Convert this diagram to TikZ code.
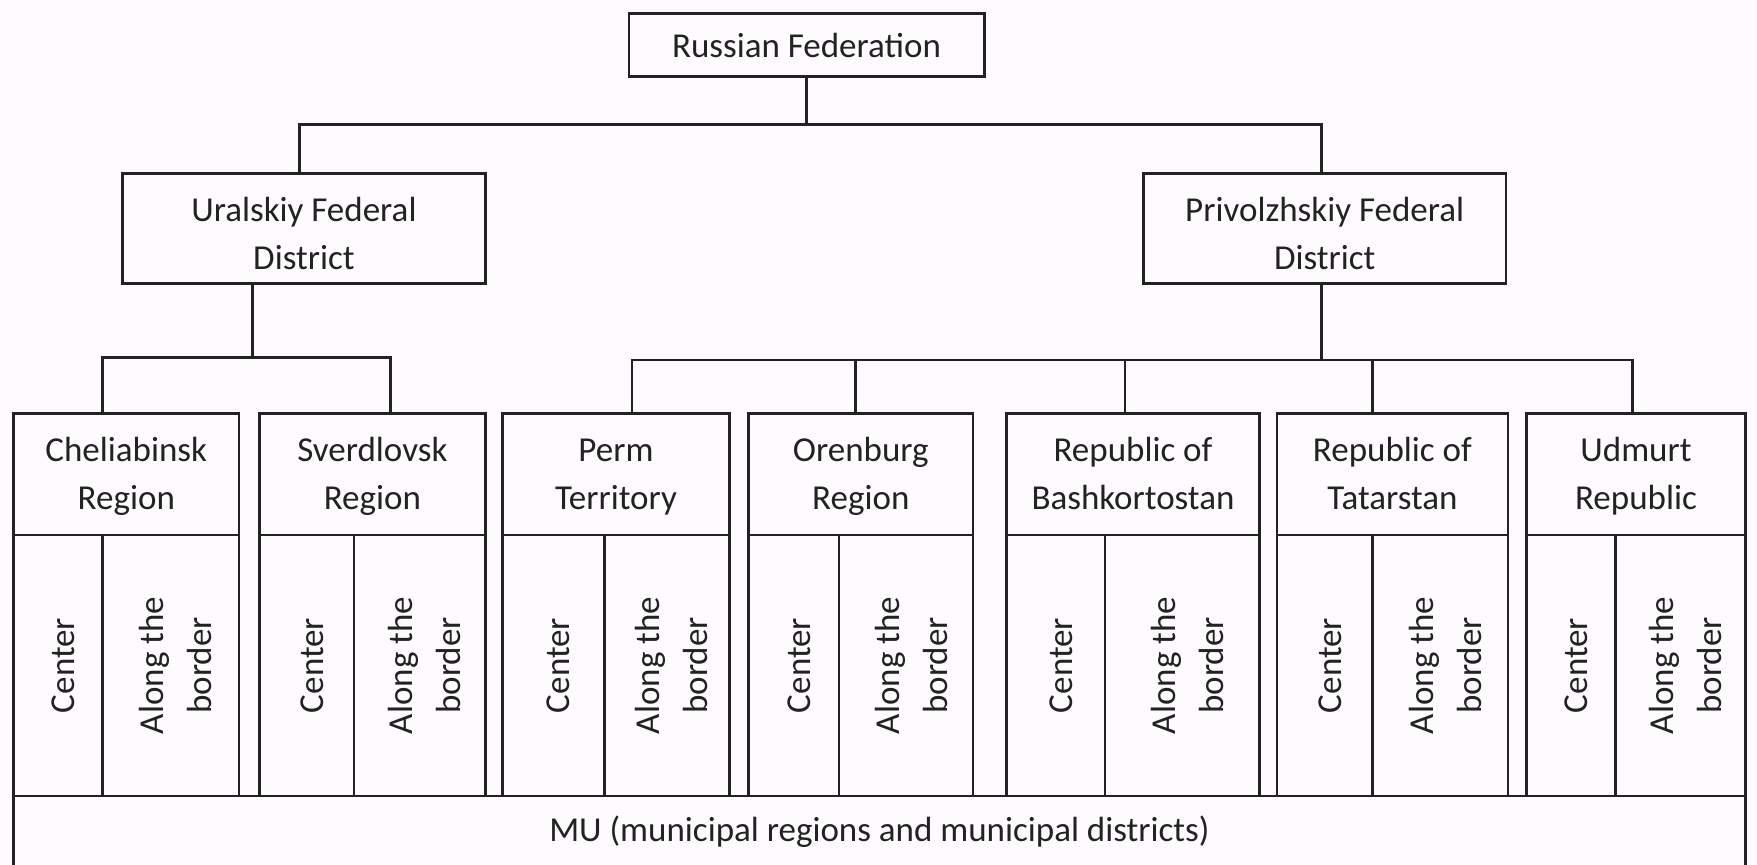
\documentclass[tikz,border=0pt]{standalone}
\usepackage{fontspec}
\setmainfont{Carlito}
\usetikzlibrary{calc}
\definecolor{bg}{RGB}{253,251,253}
\definecolor{ink}{RGB}{34,34,34}
\newcommand\myup[1]{\rule{0pt}{#1}}
\newcommand\mydn{\rule[-8pt]{0pt}{0pt}}
\begin{document}
\begin{tikzpicture}[x=1pt,y=-1pt,
  box/.style={draw=ink, line width=2.5pt, inner sep=0pt, outer sep=0pt, align=center, text=ink,
              font=\fontsize{35}{48}\selectfont},
  cell/.style={box, rotate=90, minimum width=261pt},
  hdr/.style={box, minimum height=121.7pt},
  conn/.style={draw=ink, line width=2.5pt}]
\useasboundingbox (0,0) rectangle (1757,865);
\clip (0,0) rectangle (1757,865);
\fill[bg] (0,0) rectangle (1757,865);

% top level
\node[box, minimum width=355.5pt, minimum height=63.4pt] (rf) at (806.5,45) {Russian Federation};
\node[box, minimum width=362.8pt, minimum height=110pt] (ural) at (303.9,228.3) {\myup{43pt}Uralskiy Federal\\District\mydn};
\node[box, minimum width=362.6pt, minimum height=110pt] (priv) at (1324.7,228.3) {\myup{43pt}Privolzhskiy Federal\\District\mydn};

% region headers
\node[hdr, minimum width=225.8pt] (chel)  at (126.3,474.2)  {\myup{30pt}Cheliabinsk\\Region\mydn};
\node[hdr, minimum width=225.8pt] (sverd) at (372.4,474.2)  {\myup{30pt}Sverdlovsk\\Region\mydn};
\node[hdr, minimum width=226.9pt] (perm)  at (615.95,474.2) {\myup{30pt}Perm\\Territory\mydn};
\node[hdr, minimum width=224.6pt] (oren)  at (860.8,474.2)  {\myup{30pt}Orenburg\\Region\mydn};
\node[hdr, minimum width=253.2pt] (bash)  at (1133,474.2)   {\myup{30pt}Republic of\\Bashkortostan\mydn};
\node[hdr, minimum width=231.2pt] (tat)   at (1392.4,474.2) {\myup{30pt}Republic of\\Tatarstan\mydn};
\node[hdr, minimum width=219.3pt] (udm)   at (1635.95,474.2) {\myup{30pt}Udmurt\\Republic\mydn};

% lower cells
\node[cell, minimum height=89.2pt]  (chelC)  at (58,665.5)     {\myup{33pt}Center};
\node[cell, minimum height=136.6pt] (chelB)  at (170.9,665.5)  {\myup{34pt}Along the\\border};
\node[cell, minimum height=94.5pt]  (sverdC) at (306.75,665.5) {\myup{33pt}Center};
\node[cell, minimum height=131.3pt] (sverdB) at (419.65,665.5) {\myup{34pt}Along the\\border};
\node[cell, minimum height=102.1pt] (permC)  at (553.55,665.5) {\myup{33pt}Center};
\node[cell, minimum height=124.8pt] (permB)  at (667,665.5)    {\myup{34pt}Along the\\border};
\node[cell, minimum height=90.7pt]  (orenC)  at (793.85,665.5) {\myup{33pt}Center};
\node[cell, minimum height=133.9pt] (orenB)  at (906.15,665.5) {\myup{34pt}Along the\\border};
\node[cell, minimum height=98.8pt]  (bashC)  at (1055.8,665.5) {\myup{33pt}Center};
\node[cell, minimum height=154.4pt] (bashB)  at (1182.4,665.5) {\myup{34pt}Along the\\border};
\node[cell, minimum height=95.7pt]  (tatC)   at (1324.65,665.5) {\myup{33pt}Center};
\node[cell, minimum height=135.5pt] (tatB)   at (1440.25,665.5) {\myup{34pt}Along the\\border};
\node[cell, minimum height=89.2pt]  (udmC)   at (1570.9,665.5) {\myup{33pt}Center};
\node[cell, minimum height=130.1pt] (udmB)   at (1680.55,665.5) {\myup{34pt}Along the\\border};

% bottom
\node[box, minimum width=1732.2pt, minimum height=72pt] (mu) at (879.5,832) {MU (municipal regions and municipal districts)};

% connectors
\coordinate (tb) at (0,124.3);
\draw[conn] (rf.south) -- (rf.south |- tb);
\draw[conn] ($(ural.north)+(-4.2,0)$) |- (rf.south |- tb) -| ($(priv.north)+(-3.1,0)$);

\draw[conn] ($(ural.south)+(-51.3,0)$) -- ++(0,74);
\draw[conn] ($(chel.north)+(-23.7,0)$) -- ++(0,-56) -| ($(sverd.north)+(18,0)$);

\draw[conn] ($(priv.south)+(-3.1,0)$) -- ++(0,76.7);
\draw[conn] ($(perm.north)+(15.85,0)$) -- ++(0,-53.3) -| ($(udm.north)+(-3.25,0)$);
\draw[conn] ($(oren.north)+(-5.2,0)$) -- ++(0,-53.3);
\draw[conn] ($(bash.north)+(-8,0)$) -- ++(0,-53.3);
\draw[conn] ($(tat.north)+(-19.9,0)$) -- ++(0,-53.3);
\end{tikzpicture}
\end{document}
